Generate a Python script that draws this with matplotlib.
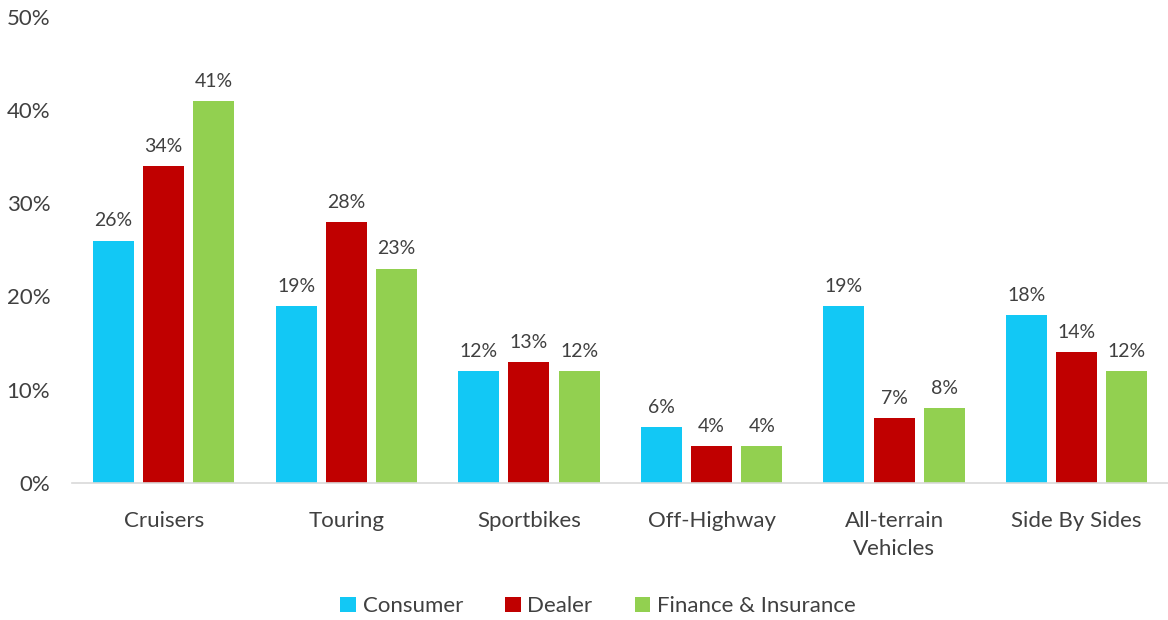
import numpy as np
import matplotlib
matplotlib.use("Agg")
import matplotlib.pyplot as plt
from matplotlib.ticker import FuncFormatter

plt.rcParams["font.family"] = ["Lato", "DejaVu Sans"]

categories = ["Cruisers", "Touring", "Sportbikes", "Off-Highway",
              "All-terrain\nVehicles", "Side By Sides"]
series_names = ["Consumer", "Dealer", "Finance & Insurance"]
consumer = [26, 19, 12, 6, 19, 18]
dealer = [34, 28, 13, 4, 7, 14]
finance = [41, 23, 12, 4, 8, 12]
colors = ["#12C8F5", "#C00000", "#92D050"]
text_color = "#404040"

fig = plt.figure(figsize=(11.68, 6.2), dpi=100)
ax = fig.add_axes([0.062, 0.221, 0.938, 0.752])

x = np.arange(len(categories))
width = 0.224
step = 0.275
for i, (name, vals) in enumerate(zip(series_names, [consumer, dealer, finance])):
    pos = x + (i - 1) * step
    bars = ax.bar(pos, vals, width, color=colors[i], label=name)
    for b, v in zip(bars, vals):
        ax.annotate(f"{v}%", (b.get_x() + b.get_width() / 2, v),
                    xytext=(0, 8), textcoords="offset points",
                    ha="center", va="bottom", fontsize=14, color=text_color)

ax.set_xlim(-0.5, len(categories) - 0.5)
ax.set_ylim(0, 50)
ax.set_yticks(range(0, 51, 10))
ax.yaxis.set_major_formatter(FuncFormatter(lambda v, _: f"{v:.0f}%"))
ax.set_xticks(x)
ax.set_xticklabels(categories, linespacing=1.5)
ax.tick_params(axis="both", length=0, labelsize=16, colors=text_color)
ax.tick_params(axis="x", pad=20)
ax.tick_params(axis="y", pad=16)
for s in ["top", "right", "left"]:
    ax.spines[s].set_visible(False)
ax.spines["bottom"].set_color("#D9D9D9")
ax.spines["bottom"].set_linewidth(1.2)

leg = fig.legend(loc="center", bbox_to_anchor=(0.512, 0.022), ncol=3,
                 frameon=False, fontsize=16, handlelength=0.7, handleheight=0.7,
                 handletextpad=0.3, columnspacing=1.9)
for t in leg.get_texts():
    t.set_color(text_color)

fig.savefig("out.png", dpi=100)
